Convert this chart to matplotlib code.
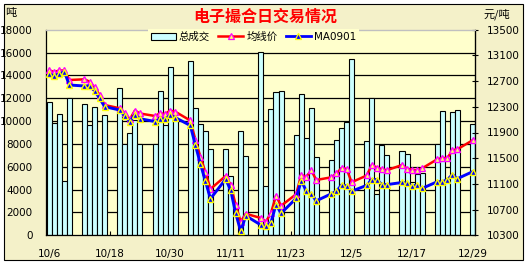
import numpy as np
import pandas as pd
import matplotlib
matplotlib.use('Agg')
import matplotlib.pyplot as plt
from matplotlib.patches import Patch, Rectangle
from matplotlib.lines import Line2D

plt.rcParams['font.family'] = ['DejaVu Sans', 'Noto Sans CJK SC']

# trading days, 2008-10-06 .. 2008-12-29 (weekdays)
dates = pd.bdate_range('2008-10-06', '2008-12-29')

# 总成交 (吨), Nov 12 has no bar
volume = [11640, 9800, 10590, 4730, 11990,
          11480, 9630, 11210, 8000, 10500,
          12870, 8000, 8930, 10100, 8000,
          8000, 12600, 9620, 14700, 10180,
          15300, 11120, 9780, 9100, 7540,
          7555, 5230, 0, 9120, 6950,
          16070, 4300, 11030, 12520, 12630,
          8780, 12345, 8545, 11120, 6880,
          6590, 8340, 9370, 9890, 15435,
          8230, 11990, 3600, 7905, 7000,
          7400, 7100, 4700, 5370, 5430,
          8000, 10880, 5000, 10770, 10970,
          9745]

# 均线价 (元/吨)
avg_price = [12868, 12842, 12865, 12865, 12717,
             12728, 12691, 12603, 12483, 12328,
             12277, 12199, 12105, 12242, 12196,
             12157, 12199, 12188, 12242, 12224,
             12087, 11788, 11523, 11282, 11021,
             11223, 11088, 10772, 10512, 10636,
             10569, 10512, 10647, 10915, 10759,
             10940, 11238, 11212, 11309, 11161,
             11203, 11262, 11347, 11335, 11126,
             11231, 11394, 11355, 11329, 11313,
             11394, 11338, 11323, 11312, 11343,
             11484, 11503, 11503, 11623, 11640,
             11779]

# MA0901 (元/吨)
ma0901 = [12803, 12787, 12810, 12846, 12639,
          12624, 12624, 12551, 12432, 12302,
          12250, 12157, 12068, 12177, 12115,
          12071, 12110, 12110, 12168, 12133,
          12009, 11705, 11413, 11140, 10870,
          11173, 11005, 10642, 10361, 10605,
          10460, 10439, 10499, 10779, 10642,
          10876, 11148, 10993, 10940, 10837,
          10947, 10986, 11083, 11070, 10986,
          11078, 11168, 11168, 11089, 11089,
          11122, 11114, 11063, 11083, 11031,
          11134, 11134, 11165, 11246, 11182,
          11290]

tick_dates = ['2008-10-06', '2008-10-18', '2008-10-30', '2008-11-11',
              '2008-11-23', '2008-12-05', '2008-12-17', '2008-12-29']

W, H = 528, 265
fig = plt.figure(figsize=(W / 100, H / 100), dpi=100, facecolor='white')
# outer frame of the chart
fig.patches.append(Rectangle((3.5 / W, 1 - 260 / H), 519.5 / W, 256.5 / H,
                             transform=fig.transFigure, facecolor='#F4F1C9',
                             edgecolor='black', lw=0.8, zorder=-10))

ax = fig.add_axes([46.3 / W, 1 - 235.3 / H, 429 / W, 205.6 / H])
ax.set_facecolor('#FFFFCC')

ax.bar(dates, volume, width=1.0, color='#CCFFFF', edgecolor='black', lw=0.8, zorder=2)

ax.set_ylim(0, 18000)
yt = np.arange(0, 18001, 2000)
ax.set_yticks(yt)
for v in yt[1:-1]:
    ax.axhline(v, color='black', lw=0.9, zorder=1)
ax.tick_params(axis='y', length=0, labelsize=7.5, pad=10)

t0 = pd.Timestamp('2008-10-06')
ax.set_xlim(t0 - pd.Timedelta(days=0.575), t0 + pd.Timedelta(days=84.54))
ax.set_xticks(pd.to_datetime(tick_dates))
ax.set_xticklabels([f'{d.month}/{d.day}' for d in pd.to_datetime(tick_dates)])
ax.tick_params(axis='x', direction='in', length=3, labelsize=7.5, pad=10)

for s in ['left', 'bottom']:
    ax.spines[s].set_color('black')
    ax.spines[s].set_linewidth(0.9)
ax.spines['top'].set_color('#C0C0C0')
ax.spines['top'].set_linewidth(0.9)

ax2 = ax.twinx()
ax2.plot(dates, avg_price, color='#FF0000', lw=1.8, marker='^', ms=5,
         mfc='#FFFF66', mec='#FF00FF', mew=1.0, zorder=3)
ax2.plot(dates, ma0901, color='#0000FF', lw=2.1, marker='^', ms=5,
         mfc='#0000FF', mec='#FFFF00', mew=1.0, zorder=4)
ax2.set_ylim(10300, 13500)
ax2.set_yticks(np.arange(10300, 13501, 400))
ax2.tick_params(axis='y', direction='inout', length=4, labelsize=7.5, pad=6)
ax2.spines['right'].set_color('black')
ax2.spines['right'].set_linewidth(0.9)
ax2.spines['top'].set_color('#C0C0C0')
ax2.spines['left'].set_visible(False)
ax2.spines['bottom'].set_visible(False)

handles = [Patch(facecolor='#CCFFFF', edgecolor='black', lw=0.8),
           Line2D([], [], color='#FF0000', lw=1.8, marker='^', ms=4.5,
                  mfc='#FFFF66', mec='#FF00FF', mew=0.9),
           Line2D([], [], color='#0000FF', lw=2.0, marker='^', ms=4.5,
                  mfc='#0000FF', mec='#FFFF00', mew=0.9)]
leg = fig.legend(handles, ['总成交', '均线价', 'MA0901'], ncol=3, loc='center',
                 bbox_to_anchor=(253.5 / W, 1 - 37 / H), fontsize=7.5,
                 frameon=True, facecolor='#FFFFCC', edgecolor='none', framealpha=1,
                 handlelength=2.4, handletextpad=0.3, columnspacing=0.8,
                 borderpad=0.25, fancybox=False)
leg.set_zorder(10)

fig.text(265 / W, 1 - 17 / H, '电子撮合日交易情况', color='#FF0000', fontsize=11.5,
         fontweight='bold', family=['Noto Sans CJK SC'], ha='center', va='center')
fig.text(5 / W, 1 - 13 / H, '吨', fontsize=8, family=['Noto Sans CJK SC'],
         ha='left', va='center')
fig.text(484 / W, 1 - 14 / H, '元/吨', fontsize=8, family=['Noto Sans CJK SC'],
         ha='left', va='center')

fig.savefig('out.png', dpi=100)
